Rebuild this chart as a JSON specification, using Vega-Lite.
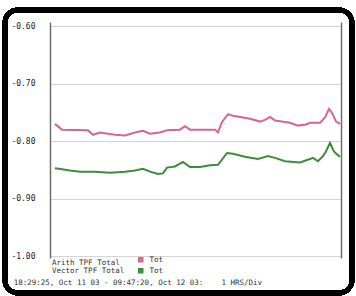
{
  "$schema": "https://vega.github.io/schema/vega-lite/v6.json",
  "autosize": "none",
  "width": 291,
  "height": 236,
  "padding": {"left": 50, "top": 22, "right": 15, "bottom": 38},
  "background": "white",
  "config": {"view": {"stroke": null}, "font": "DejaVu Sans Mono"},
  "title": {
    "text": "18:29:25, Oct 11 03 - 09:47:20, Oct 12 03:\u00a0\u00a0\u00a0\u00a01 HRS/Div",
    "orient": "bottom", "anchor": "start", "dx": 11, "offset": -16,
    "font": "DejaVu Sans Mono", "fontSize": 7.5, "fontWeight": "normal", "color": "#333"
  },
  "datasets": {
    "series": [
      {"series": "Arith TPF Total", "h": 0.26, "v": -0.770},
      {"series": "Arith TPF Total", "h": 0.63, "v": -0.780},
      {"series": "Arith TPF Total", "h": 2.00, "v": -0.781},
      {"series": "Arith TPF Total", "h": 2.26, "v": -0.789},
      {"series": "Arith TPF Total", "h": 2.63, "v": -0.785},
      {"series": "Arith TPF Total", "h": 3.42, "v": -0.789},
      {"series": "Arith TPF Total", "h": 3.94, "v": -0.790},
      {"series": "Arith TPF Total", "h": 4.47, "v": -0.785},
      {"series": "Arith TPF Total", "h": 4.89, "v": -0.782},
      {"series": "Arith TPF Total", "h": 5.26, "v": -0.787},
      {"series": "Arith TPF Total", "h": 5.78, "v": -0.785},
      {"series": "Arith TPF Total", "h": 6.15, "v": -0.781},
      {"series": "Arith TPF Total", "h": 6.83, "v": -0.780},
      {"series": "Arith TPF Total", "h": 7.10, "v": -0.774},
      {"series": "Arith TPF Total", "h": 7.36, "v": -0.780},
      {"series": "Arith TPF Total", "h": 7.89, "v": -0.780},
      {"series": "Arith TPF Total", "h": 8.68, "v": -0.780},
      {"series": "Arith TPF Total", "h": 8.83, "v": -0.785},
      {"series": "Arith TPF Total", "h": 9.04, "v": -0.767},
      {"series": "Arith TPF Total", "h": 9.36, "v": -0.753},
      {"series": "Arith TPF Total", "h": 9.62, "v": -0.756},
      {"series": "Arith TPF Total", "h": 10.52, "v": -0.761},
      {"series": "Arith TPF Total", "h": 11.04, "v": -0.766},
      {"series": "Arith TPF Total", "h": 11.30, "v": -0.763},
      {"series": "Arith TPF Total", "h": 11.57, "v": -0.758},
      {"series": "Arith TPF Total", "h": 11.83, "v": -0.764},
      {"series": "Arith TPF Total", "h": 12.62, "v": -0.768},
      {"series": "Arith TPF Total", "h": 13.04, "v": -0.773},
      {"series": "Arith TPF Total", "h": 13.46, "v": -0.771},
      {"series": "Arith TPF Total", "h": 13.67, "v": -0.768},
      {"series": "Arith TPF Total", "h": 14.20, "v": -0.768},
      {"series": "Arith TPF Total", "h": 14.46, "v": -0.759},
      {"series": "Arith TPF Total", "h": 14.67, "v": -0.744},
      {"series": "Arith TPF Total", "h": 14.83, "v": -0.751},
      {"series": "Arith TPF Total", "h": 15.04, "v": -0.766},
      {"series": "Arith TPF Total", "h": 15.25, "v": -0.770},
      {"series": "Vector TPF Total", "h": 0.26, "v": -0.847},
      {"series": "Vector TPF Total", "h": 0.63, "v": -0.849},
      {"series": "Vector TPF Total", "h": 1.05, "v": -0.851},
      {"series": "Vector TPF Total", "h": 1.58, "v": -0.853},
      {"series": "Vector TPF Total", "h": 2.37, "v": -0.853},
      {"series": "Vector TPF Total", "h": 3.15, "v": -0.855},
      {"series": "Vector TPF Total", "h": 3.94, "v": -0.853},
      {"series": "Vector TPF Total", "h": 4.47, "v": -0.851},
      {"series": "Vector TPF Total", "h": 4.89, "v": -0.848},
      {"series": "Vector TPF Total", "h": 5.26, "v": -0.853},
      {"series": "Vector TPF Total", "h": 5.68, "v": -0.857},
      {"series": "Vector TPF Total", "h": 5.94, "v": -0.856},
      {"series": "Vector TPF Total", "h": 6.15, "v": -0.846},
      {"series": "Vector TPF Total", "h": 6.57, "v": -0.844},
      {"series": "Vector TPF Total", "h": 6.99, "v": -0.836},
      {"series": "Vector TPF Total", "h": 7.36, "v": -0.845},
      {"series": "Vector TPF Total", "h": 7.89, "v": -0.845},
      {"series": "Vector TPF Total", "h": 8.41, "v": -0.842},
      {"series": "Vector TPF Total", "h": 8.83, "v": -0.841},
      {"series": "Vector TPF Total", "h": 9.04, "v": -0.832},
      {"series": "Vector TPF Total", "h": 9.31, "v": -0.8205},
      {"series": "Vector TPF Total", "h": 9.62, "v": -0.822},
      {"series": "Vector TPF Total", "h": 10.25, "v": -0.827},
      {"series": "Vector TPF Total", "h": 10.94, "v": -0.831},
      {"series": "Vector TPF Total", "h": 11.46, "v": -0.826},
      {"series": "Vector TPF Total", "h": 11.83, "v": -0.829},
      {"series": "Vector TPF Total", "h": 12.36, "v": -0.835},
      {"series": "Vector TPF Total", "h": 13.14, "v": -0.837},
      {"series": "Vector TPF Total", "h": 13.67, "v": -0.831},
      {"series": "Vector TPF Total", "h": 13.83, "v": -0.829},
      {"series": "Vector TPF Total", "h": 14.09, "v": -0.835},
      {"series": "Vector TPF Total", "h": 14.35, "v": -0.826},
      {"series": "Vector TPF Total", "h": 14.51, "v": -0.818},
      {"series": "Vector TPF Total", "h": 14.72, "v": -0.803},
      {"series": "Vector TPF Total", "h": 14.93, "v": -0.818},
      {"series": "Vector TPF Total", "h": 15.09, "v": -0.823},
      {"series": "Vector TPF Total", "h": 15.25, "v": -0.827}
    ]
  },
  "data": {"name": "series"},
  "layer": [
    {
      "mark": {"type": "rule", "opacity": 0},
      "encoding": {
        "x": {"datum": 0, "type": "quantitative"},
        "y": {
          "datum": -0.8, "type": "quantitative",
          "axis": {"orient": "right", "labels": false, "ticks": false, "grid": false, "title": null,
                   "domainColor": "#6e6e6e", "domainWidth": 1.5}
        }
      }
    },
    {
      "mark": {"type": "line", "strokeWidth": 2, "interpolate": "linear"},
      "encoding": {
        "x": {
          "field": "h", "type": "quantitative",
          "scale": {"domain": [0, 15.3], "nice": false, "zero": false},
          "axis": {"values": [1,2,3,4,5,6,7,8,9,10,11,12,13,14,15], "labels": false, "ticks": false, "title": null,
                   "grid": true, "gridColor": "#d4d4d4", "gridWidth": 1,
                   "domainColor": "#6e6e6e", "domainWidth": 1.5}
        },
        "y": {
          "field": "v", "type": "quantitative",
          "scale": {"domain": [-1.003, -0.593], "nice": false, "zero": false},
          "axis": {"values": [-1.0, -0.9, -0.8, -0.7, -0.6], "title": null, "ticks": false,
                   "labelExpr": "replace(format(datum.value, '.2f'), '\u2212', '-')",
                   "labelFont": "DejaVu Sans Mono", "labelFontSize": 8, "labelColor": "#222",
                   "labelPadding": 15, "grid": true, "gridColor": "#d4d4d4", "gridWidth": 1,
                   "domainColor": "#6e6e6e", "domainWidth": 1.5}
        },
        "color": {
          "field": "series", "type": "nominal",
          "scale": {"domain": ["Arith TPF Total", "Vector TPF Total"], "range": ["#d9648e", "#3d8c3d"]},
          "legend": {
            "orient": "none", "legendX": 2, "legendY": 234,
            "title": ["Arith TPF Total", "Vector TPF Total"],
            "titleOrient": "left", "titleFont": "DejaVu Sans Mono", "titleFontSize": 7.5,
            "titleFontWeight": "normal", "titleColor": "#333", "titleLineHeight": 8, "titlePadding": 12,
            "labelExpr": "'Tot'", "labelFont": "DejaVu Sans Mono", "labelFontSize": 7.5, "labelColor": "#333",
            "symbolType": "square", "symbolSize": 9, "symbolStrokeWidth": 2.5, "rowPadding": -5,
            "labelOffset": 5
          }
        }
      }
    },
    {
      "mark": {"type": "rect", "fill": null, "stroke": "black", "strokeWidth": 4.5, "cornerRadius": 13, "clip": false},
      "encoding": {
        "x": {"datum": -2.37, "type": "quantitative", "axis": null},
        "x2": {"datum": 15.88},
        "y": {"datum": -1.0638, "type": "quantitative", "axis": null},
        "y2": {"datum": -0.5722}
      }
    }
  ],
  "resolve": {"axis": {"y": "independent"}}
}
